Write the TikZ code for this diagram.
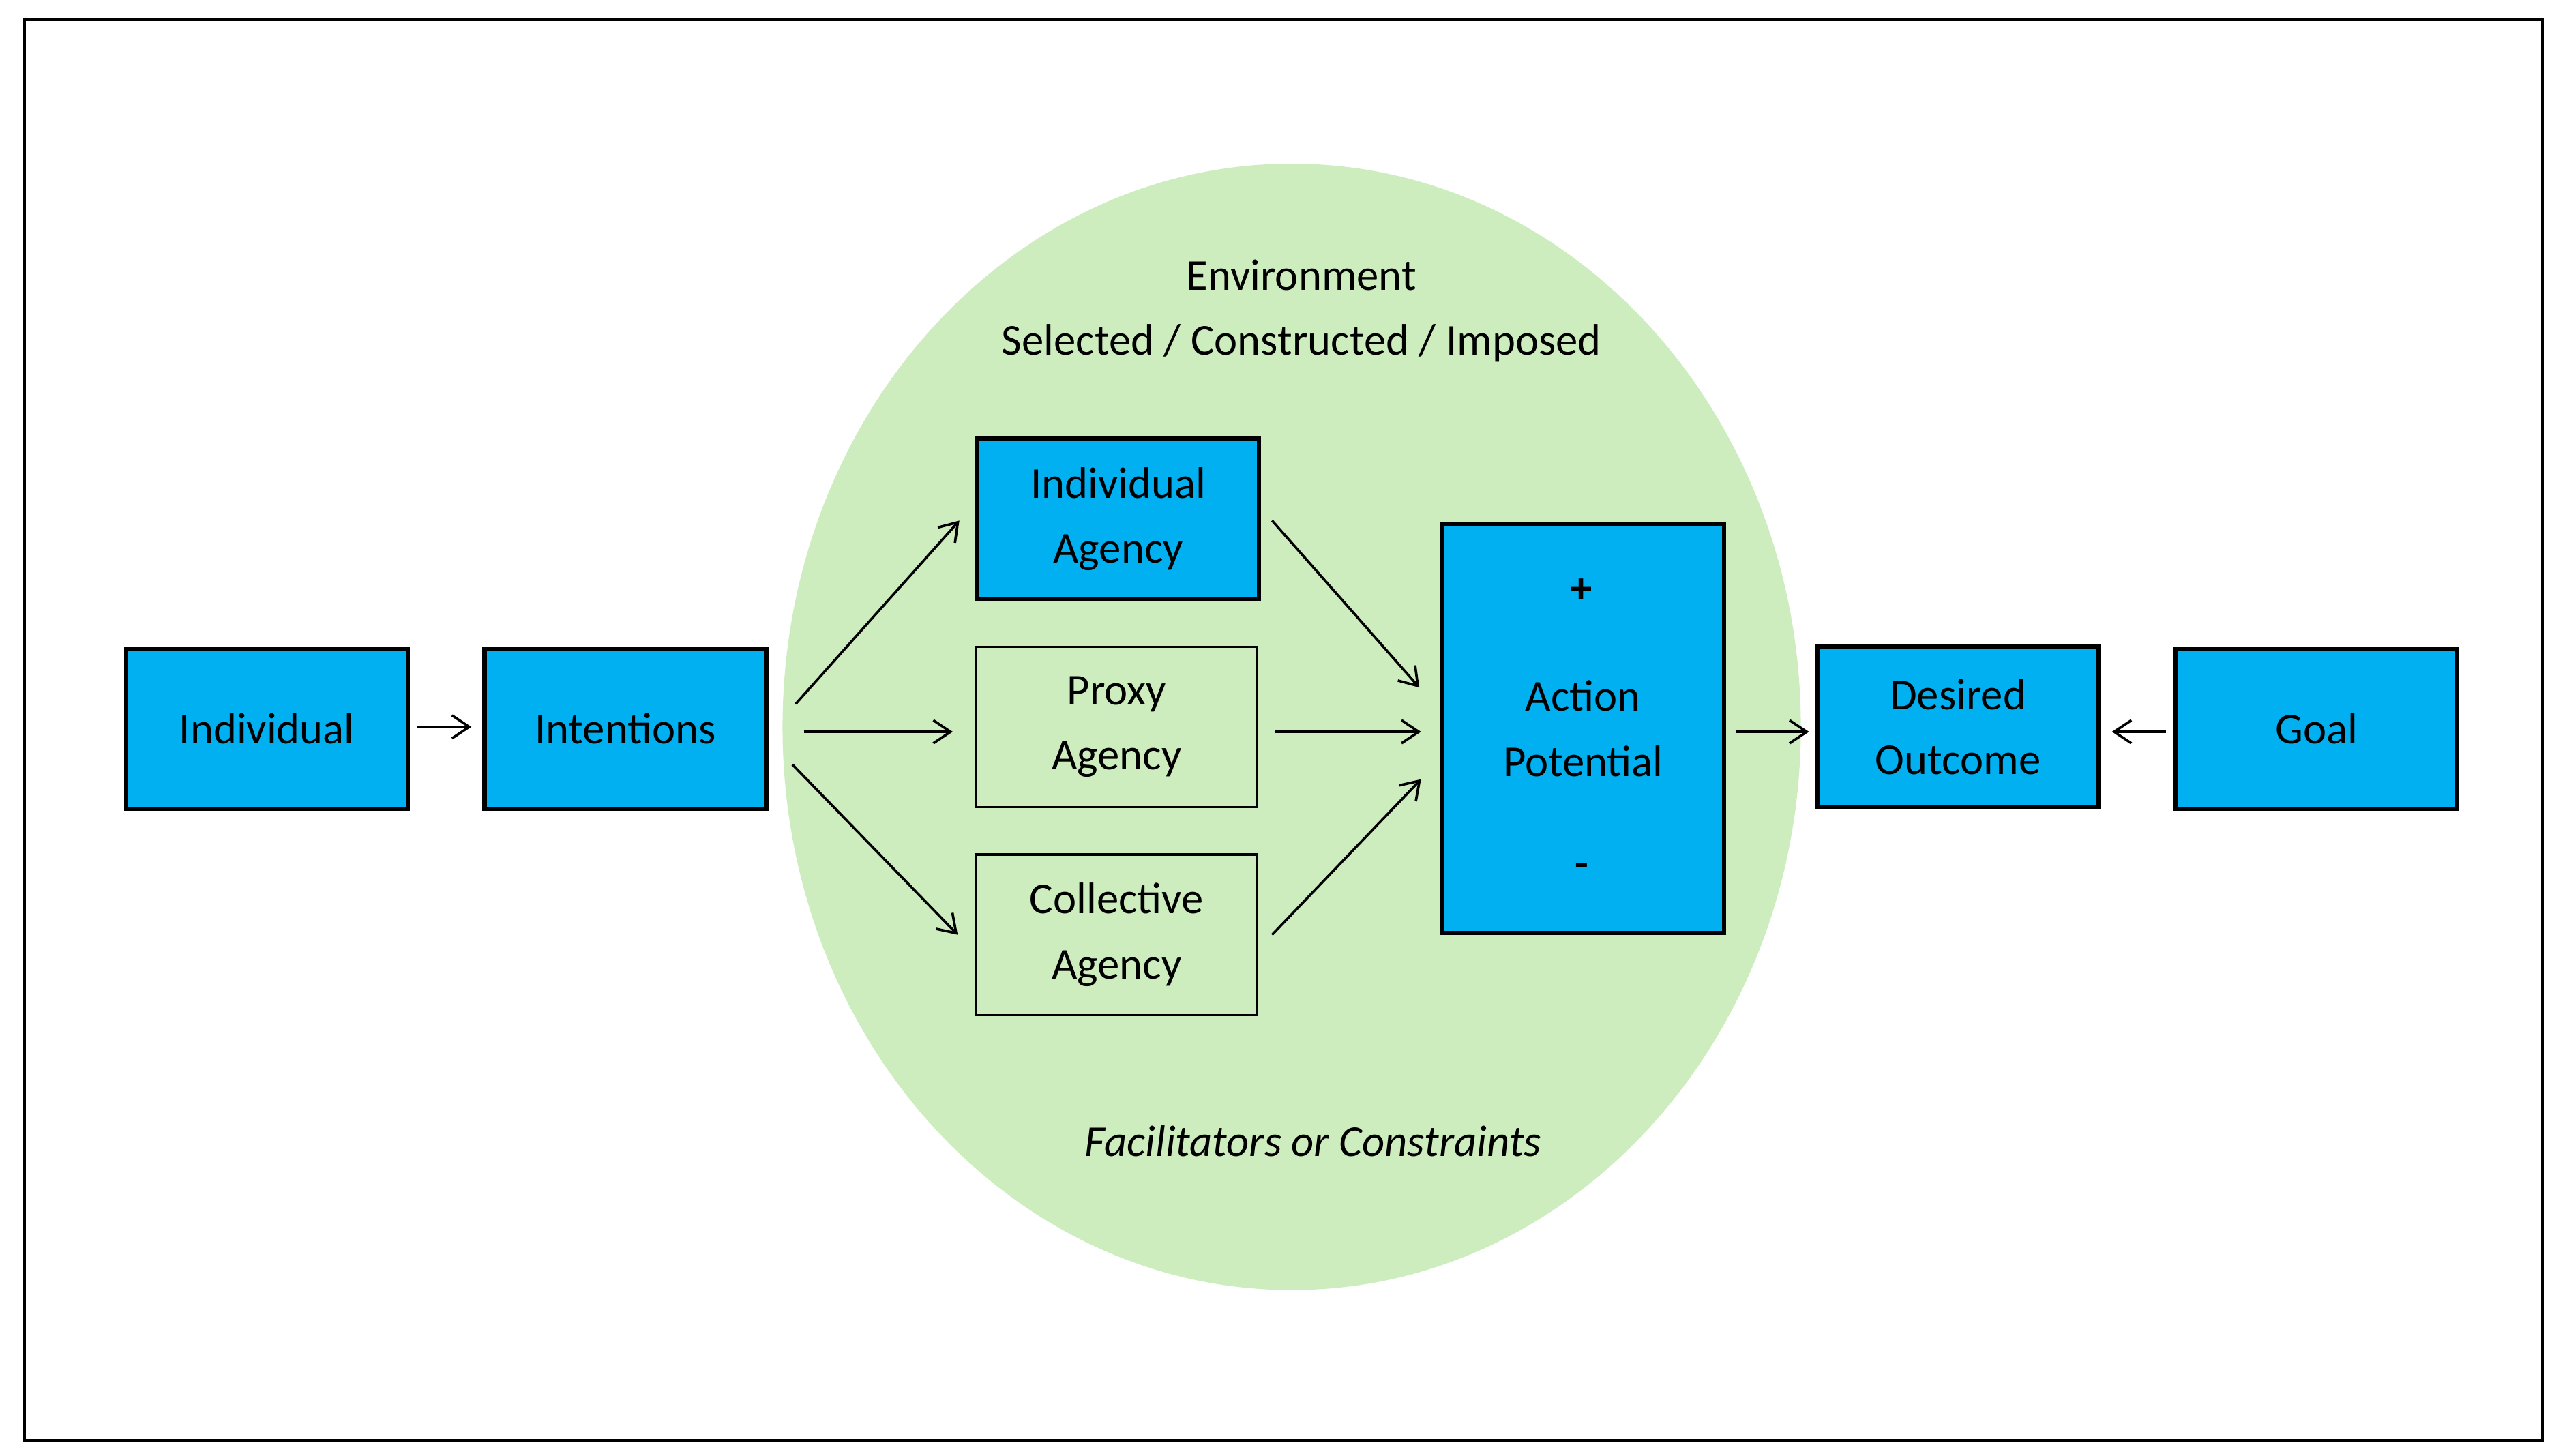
\documentclass[tikz,border=0pt]{standalone}
\usepackage{fontspec}
\setmainfont{Carlito}
\usetikzlibrary{arrows.meta}
\definecolor{bl}{HTML}{00B0F0}
\definecolor{gr}{HTML}{CDEDBF}
\begin{document}
\begin{tikzpicture}[x=0.3mm,y=-0.3mm,
 box/.style={draw,line width=2.2pt,fill=bl,minimum width=172*0.3mm,minimum height=98*0.3mm,align=center,inner sep=0pt},
 pbox/.style={draw,line width=1.2pt,fill=gr,minimum width=172*0.3mm,minimum height=98*0.3mm,align=center,inner sep=0pt},
 arr/.style={-{Straight Barb[length=9pt,width=12pt]},line width=1.3pt},
 txt/.style={font=\fontsize{23}{34}\selectfont,align=center}]
\useasboundingbox (0,0) rectangle (1568,889);
\fill[white] (0,0) rectangle (1568,889);
\draw[line width=1.6pt] (15,12) rectangle (1553,880);
\fill[gr] (789,444) ellipse [x radius=311*0.3mm, y radius=344*0.3mm];
\node[txt] (env) at (795,190) {Environment\\Selected / Constructed / Imposed};
\node[txt,font=\fontsize{23}{34}\selectfont\itshape] (fac) at (802,697) {Facilitators or Constraints};
\node[box,txt] (ind) at (163,445) {Individual};
\node[box,txt] (int) at (382,445) {Intentions};
\node[box,txt] (ia) at (683,317) {Individual\\Agency};
\node[pbox,txt] (pa) at (682,444) {Proxy\\Agency};
\node[pbox,txt] (ca) at (682,571) {Collective\\Agency};
\node[box,txt,minimum height=250*0.3mm] (ap) at (967,445) {Action\\Potential};
\node[txt,font=\fontsize{23}{34}\selectfont\bfseries] (plus) at (966,361) {+};
\node[txt,font=\fontsize{23}{34}\selectfont\bfseries] (minus) at (966,532) {-};
\node[box,txt] (do) at (1196,444) {Desired\\Outcome};
\node[box,txt] (goal) at (1415,445) {Goal};
\coordinate (a1) at (255,444); \coordinate (a2) at (288,444);
\coordinate (b1) at (486,430); \coordinate (b2) at (586,318);
\coordinate (c1) at (491,447); \coordinate (c2) at (582,447);
\coordinate (d1) at (484,467); \coordinate (d2) at (585,571);
\coordinate (e1) at (777,318); \coordinate (e2) at (867,420);
\coordinate (f1) at (779,447); \coordinate (f2) at (868,447);
\coordinate (g1) at (777,571); \coordinate (g2) at (868,476);
\coordinate (h1) at (1060,447); \coordinate (h2) at (1105,447);
\coordinate (k1) at (1323,447); \coordinate (k2) at (1290,447);
\foreach \p in {a,b,c,d,e,f,g,h,k} \draw[arr] (\p1) -- (\p2);
\end{tikzpicture}
\end{document}
